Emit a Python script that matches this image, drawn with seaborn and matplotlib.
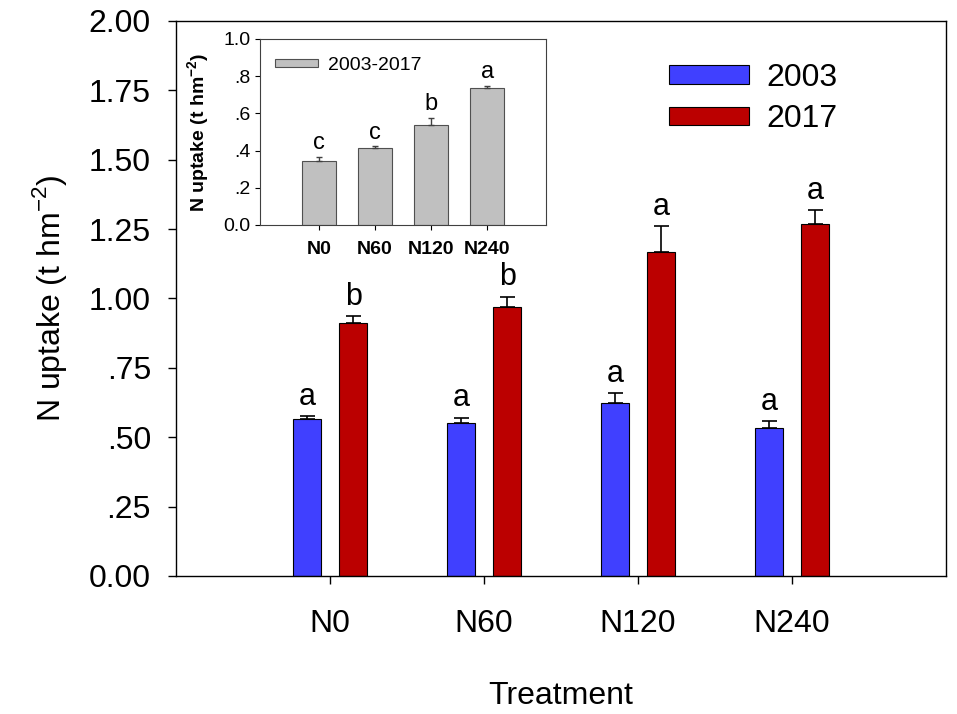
import numpy as np
import pandas as pd
import matplotlib
matplotlib.use('Agg')
import matplotlib.pyplot as plt
from matplotlib.ticker import FuncFormatter, MultipleLocator
import seaborn as sns

# main chart data
treatments = ['N0', 'N60', 'N120', 'N240']
years = ['2003', '2017']
uptake_2003 = [0.564, 0.552, 0.625, 0.532]
err_2003 = [0.012, 0.019, 0.034, 0.027]
uptake_2017 = [0.912, 0.969, 1.166, 1.269]
err_2017 = [0.026, 0.038, 0.096, 0.051]
letters_2003 = ['a', 'a', 'a', 'a']
letters_2017 = ['b', 'b', 'a', 'a']

# inset data
inset_label = '2003-2017'
inset_values = [0.346, 0.414, 0.538, 0.735]
inset_err = [0.021, 0.009, 0.037, 0.012]
inset_letters = ['c', 'c', 'b', 'a']

colors = {'2003': '#4040FF', '2017': '#BB0000'}

df = pd.DataFrame({
    'Treatment': treatments * 2,
    'Year': [years[0]] * 4 + [years[1]] * 4,
    'Uptake': uptake_2003 + uptake_2017,
})
df_inset = pd.DataFrame({'Treatment': treatments, 'Uptake': inset_values})

sns.set_style('ticks')
plt.rcParams['font.family'] = ['Liberation Sans', 'DejaVu Sans']
plt.rcParams['mathtext.fontset'] = 'custom'
plt.rcParams['mathtext.rm'] = 'Liberation Sans'
plt.rcParams['mathtext.bf'] = 'Liberation Sans:bold'
for k in ['text.color', 'axes.labelcolor', 'xtick.color', 'ytick.color']:
    plt.rcParams[k] = 'black'

fig = plt.figure(figsize=(9.57, 7.14), dpi=100)
ax = fig.add_axes([0.1839, 0.1933, 0.8046, 0.7773])

sns.barplot(data=df, x='Treatment', y='Uptake', hue='Year', palette=colors,
            saturation=1, width=0.6, gap=0.4, edgecolor='black', linewidth=0.8,
            errorbar=None, ax=ax)

errs = [err_2003, err_2017]
lets = [letters_2003, letters_2017]
for cont, e, lt in zip(ax.containers, errs, lets):
    for bar, ee, t in zip(cont.patches, e, lt):
        xc = bar.get_x() + bar.get_width() / 2
        h = bar.get_height()
        ax.errorbar(xc, h, yerr=[[0], [ee]], color='black', capsize=5.4,
                    elinewidth=1.2, capthick=1.2, zorder=1)
        ax.annotate(t, (xc, h + ee), xytext=(0, 3), textcoords='offset points',
                    ha='center', va='bottom', fontsize=22)

ax.set_xlim(-1.0, 4.0)
ax.set_ylim(0, 2.0)
ax.yaxis.set_major_locator(MultipleLocator(0.25))
ax.yaxis.set_major_formatter(FuncFormatter(
    lambda v, p: (f'{v:.2f}'[1:] if 0 < v < 1 else f'{v:.2f}')))
ax.tick_params(axis='both', labelsize=23, length=6, width=1.0, direction='out')
ax.tick_params(axis='y', pad=12)
ax.tick_params(axis='x', pad=18)
for s in ax.spines.values():
    s.set_linewidth(1.0)
    s.set_color('black')
ax.set_xlabel('Treatment', fontsize=23, labelpad=30)
ax.set_ylabel('N uptake (t hm$^{-2}$)', fontsize=23, labelpad=14)

handles, labels = ax.get_legend_handles_labels()
ax.legend(handles, labels, loc='upper left', bbox_to_anchor=(0.62, 0.953),
          frameon=False, fontsize=23, handlelength=2.5, handleheight=0.52,
          handletextpad=0.55, labelspacing=0.35, borderpad=0)

# inset
axi = fig.add_axes([0.2717, 0.6849, 0.2989, 0.2605])
sns.barplot(data=df_inset, x='Treatment', y='Uptake', color='#C0C0C0',
            saturation=1, width=0.61, edgecolor='#505050', linewidth=0.8,
            errorbar=None, label=inset_label, ax=axi)
for bar, ee, t in zip(axi.containers[0].patches, inset_err, inset_letters):
    xc = bar.get_x() + bar.get_width() / 2
    h = bar.get_height()
    axi.errorbar(xc, h, yerr=[[0], [ee]], color='#404040', capsize=2.5,
                 elinewidth=1.0, capthick=1.0, zorder=1)
    axi.annotate(t, (xc, h + ee), xytext=(0, 2), textcoords='offset points',
                 ha='center', va='bottom', fontsize=17)

axi.set_xlim(-1.05, 4.05)
axi.set_ylim(0, 1.0)
axi.yaxis.set_major_locator(MultipleLocator(0.2))
axi.yaxis.set_major_formatter(FuncFormatter(
    lambda v, p: (f'{v:.1f}'[1:] if 0 < v < 1 else f'{v:.1f}')))
axi.tick_params(axis='both', labelsize=14, length=3.5, width=0.8, direction='out')
axi.tick_params(axis='x', pad=8)
for lab in axi.get_xticklabels():
    lab.set_fontweight('bold')
for s in axi.spines.values():
    s.set_linewidth(0.8)
    s.set_color('#404040')
axi.set_xlabel('')
axi.set_ylabel(r'N uptake (t hm$^{\mathbf{-2}}$)', fontsize=14,
               fontweight='bold', labelpad=8)
axi.legend(loc='upper left', bbox_to_anchor=(0.02, 0.955), frameon=False,
           fontsize=14, handlelength=2.2, handleheight=0.3,
           handletextpad=0.5, borderpad=0)

fig.savefig('out.png', dpi=100)
